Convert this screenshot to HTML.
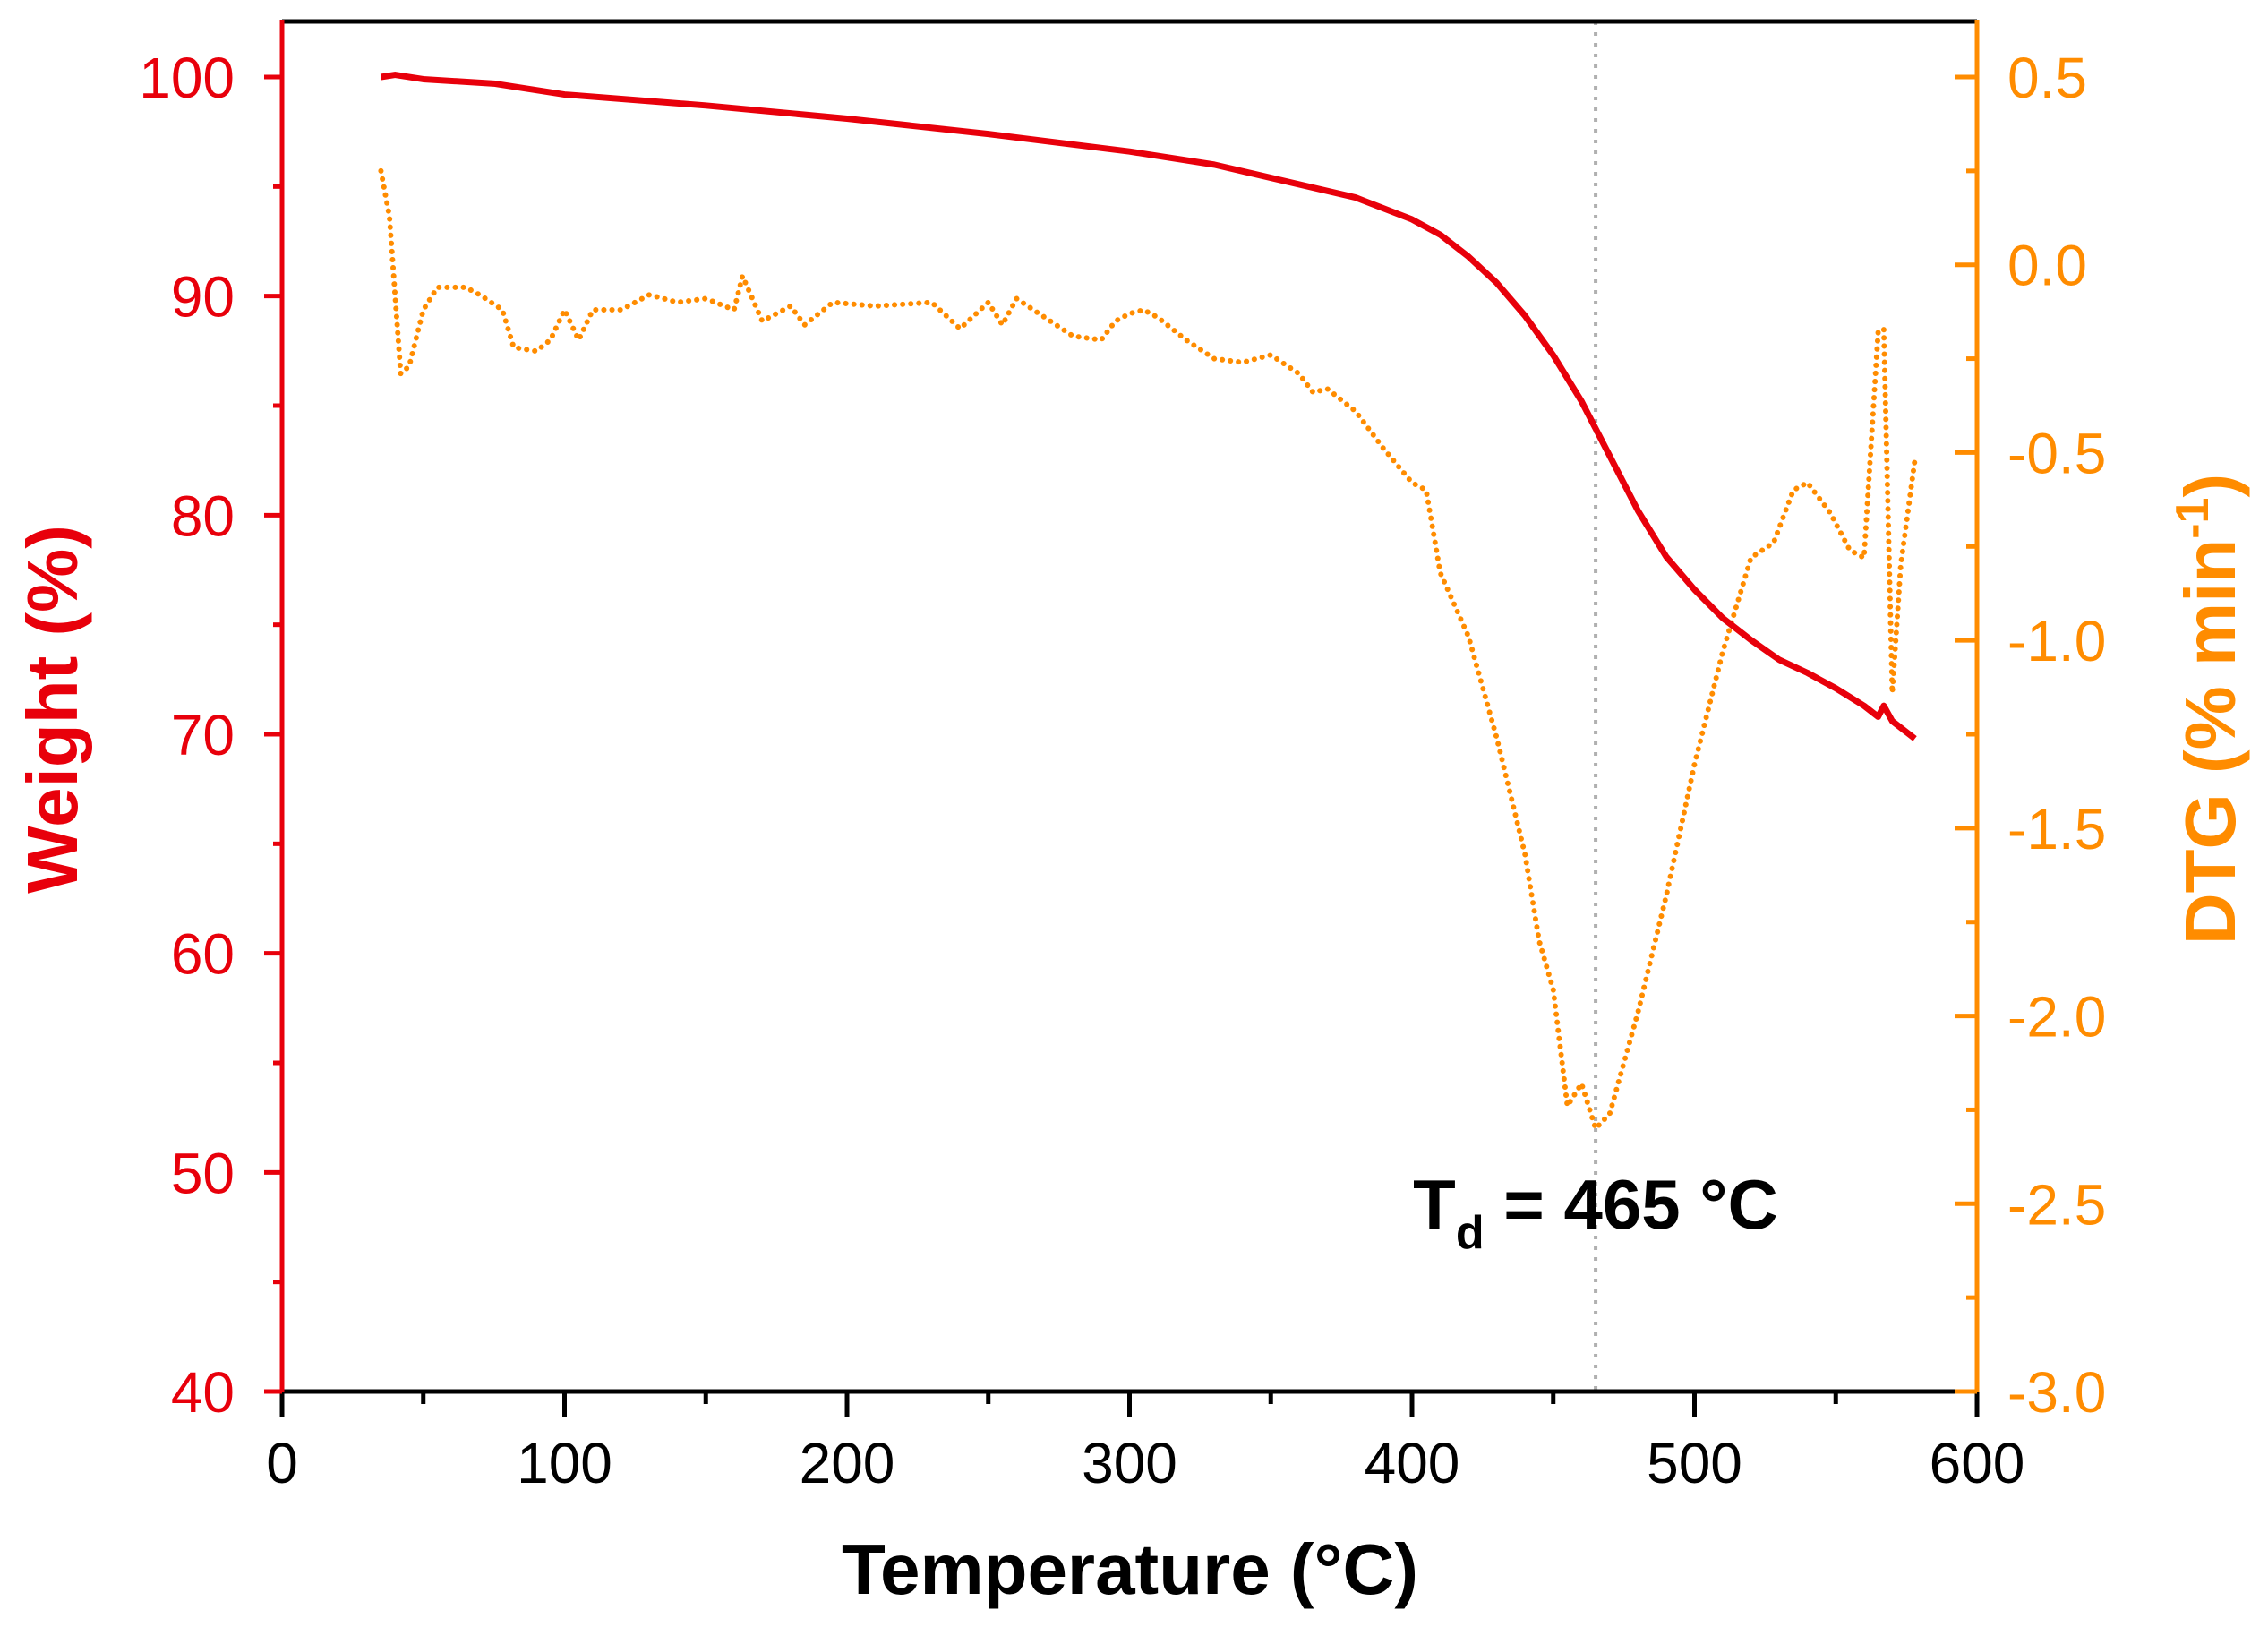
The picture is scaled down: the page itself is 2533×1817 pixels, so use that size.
<!DOCTYPE html>
<html><head><meta charset="utf-8"><style>
html,body{margin:0;padding:0;background:#fff}
svg{display:block}
text{font-family:"Liberation Sans",Arial,sans-serif}
</style></head><body>
<svg id="chart" width="2533" height="1817" viewBox="0 0 2533 1817" xmlns="http://www.w3.org/2000/svg">
<g id="plot"></g>
</svg>
<script>
const xTicks=[0,100,200,300,400,500,600];
const wTicks=[40,50,60,70,80,90,100];
const dTicks=[0.5,0.0,-0.5,-1.0,-1.5,-2.0,-2.5,-3.0];
const dTickLabels=["0.5","0.0","-0.5","-1.0","-1.5","-2.0","-2.5","-3.0"];
const wT=[35,40,50,75,100,150,200,250,300,330,350,380,400,410,420,430,440,450,460,470,480,490,500,510,520,530,540,550,560,565,567,570,578];
const wV=[100.0,100.1,99.9,99.7,99.2,98.7,98.1,97.4,96.6,96.0,95.4,94.5,93.5,92.8,91.8,90.6,89.1,87.3,85.2,82.7,80.2,78.1,76.6,75.3,74.3,73.4,72.8,72.1,71.3,70.8,71.3,70.6,69.8];
const dT=[35,38,42,45,50,55,65,70,78,82,90,95,100,105,110,120,130,140,150,160,163,170,180,185,195,210,230,240,250,255,260,270,280,290,295,300,305,310,320,330,340,350,360,365,370,380,390,400,405,410,420,430,440,445,450,455,460,465,470,480,490,500,510,520,528,535,540,548,555,560,565,567,570,573,578];
const dV=[0.25,0.13,-0.29,-0.27,-0.12,-0.06,-0.06,-0.08,-0.12,-0.22,-0.23,-0.2,-0.12,-0.2,-0.12,-0.12,-0.08,-0.1,-0.09,-0.12,-0.03,-0.15,-0.11,-0.16,-0.1,-0.11,-0.1,-0.17,-0.1,-0.16,-0.09,-0.14,-0.19,-0.2,-0.15,-0.13,-0.12,-0.14,-0.2,-0.25,-0.26,-0.24,-0.29,-0.34,-0.33,-0.39,-0.49,-0.58,-0.6,-0.82,-0.99,-1.26,-1.57,-1.8,-1.93,-2.24,-2.18,-2.3,-2.26,-1.99,-1.68,-1.33,-1.03,-0.78,-0.74,-0.6,-0.58,-0.66,-0.76,-0.78,-0.18,-0.17,-1.14,-0.8,-0.52];
const tdValue=465;

const L=315,R=2208,T=24,B=1554;
const X=v=>L+(v-0)/600*(R-L);
const YW=v=>B-(v-40)/(100-40)*(1554-86);
const YD=v=>B-(v+3.0)/3.5*(1554-86);
const NS="http://www.w3.org/2000/svg";
const g=document.getElementById('plot');
function mk(tag,attrs,parent){const e=document.createElementNS(NS,tag);for(const k in attrs)e.setAttribute(k,attrs[k]);(parent||g).appendChild(e);return e;}
const RED="#e8000b",OR="#ff8c00";

let e=mk('line',{x1:X(tdValue),x2:X(tdValue),y1:T,y2:B,stroke:"#b0b0b0","stroke-width":4,"stroke-dasharray":"4 8"});



e=mk('polyline',{points:dT.map((t,i)=>X(t)+","+YD(dV[i])).join(" "),fill:"none",stroke:OR,"stroke-width":6,"stroke-dasharray":"0.1 9","stroke-linecap":"round"});


e=mk('polyline',{points:wT.map((t,i)=>X(t)+","+YW(wV[i])).join(" "),fill:"none",stroke:RED,"stroke-width":7,"stroke-linejoin":"round"});



e=mk('line',{x1:L,x2:R,y1:T,y2:T,stroke:"#000","stroke-width":5});


e=mk('line',{x1:L-2,x2:R,y1:B,y2:B,stroke:"#000","stroke-width":5});


e=mk('line',{x1:L,x2:L,y1:T-2,y2:B+2,stroke:RED,"stroke-width":5});


e=mk('line',{x1:R,x2:R,y1:T-2,y2:B+2,stroke:OR,"stroke-width":5});



for(let v=0;v<=600;v+=50){const maj=v%100===0;
 e=mk('line',{x1:X(v),x2:X(v),y1:B,y2:B+(maj?29:14),stroke:"#000","stroke-width":5});
 
 }
xTicks.forEach(v=>{e=mk('text',{x:X(v),y:1656,"text-anchor":"middle","font-size":64,fill:"#000"});e.textContent=v;
 
 });
for(let v=40;v<=100;v+=5){const maj=v%10===0;
 e=mk('line',{x1:L-(maj?20:10),x2:L,y1:YW(v),y2:YW(v),stroke:RED,"stroke-width":5});
 
 }
wTicks.forEach(v=>{e=mk('text',{x:L-53,y:YW(v)+23,"text-anchor":"end","font-size":64,fill:RED});e.textContent=v;
 
 });
for(let v=-3.0;v<=0.75;v+=0.25){const maj=Math.abs(v*2-Math.round(v*2))<1e-6;
 e=mk('line',{x1:R-(maj?25:12),x2:R,y1:YD(v),y2:YD(v),stroke:OR,"stroke-width":5});
 
 }
dTicks.forEach((v,i)=>{e=mk('text',{x:R+34,y:YD(v)+23,"text-anchor":"start","font-size":64,fill:OR});e.textContent=dTickLabels[i];
 
 });

e=mk('text',{x:1262,y:1780,"text-anchor":"middle","font-size":80,"font-weight":"bold",fill:"#000"});e.textContent="Temperature (°C)";


e=mk('text',{x:0,y:0,"text-anchor":"middle","font-size":80,"font-weight":"bold",fill:RED,transform:"translate(86,792) rotate(-90)"});e.textContent="Weight (%)";


e=mk('text',{x:0,y:0,"text-anchor":"middle","font-size":80,"font-weight":"bold",fill:OR,transform:"translate(2496,792) rotate(-90)"});
e.innerHTML='DTG (% min<tspan font-size="52" dy="-30">-1</tspan><tspan dy="30">)</tspan>';


e=mk('text',{x:1782,y:1372,"text-anchor":"middle","font-size":78,"font-weight":"bold",fill:"#000"});
e.innerHTML='T<tspan font-size="52" dy="22">d</tspan><tspan dy="-22"> = 465 °C</tspan>';


</script>
</body></html>
